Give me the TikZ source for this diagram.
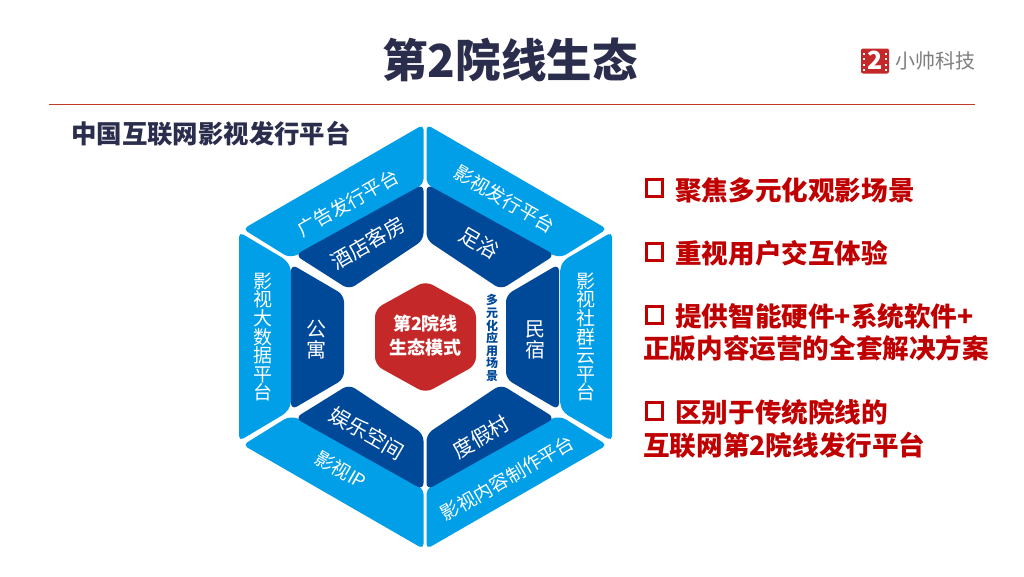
\documentclass[tikz,border=0pt]{standalone}
\usepackage{fontspec}
\setmainfont{Noto Sans CJK SC}
\definecolor{lightb}{HTML}{009FE8}
\definecolor{darkb}{HTML}{004898}
\definecolor{hexred}{HTML}{C52828}
\definecolor{navy}{HTML}{2B2D4D}
\definecolor{redtxt}{HTML}{C00000}
\definecolor{rulered}{HTML}{C0392B}
\definecolor{graytxt}{HTML}{7F7F7F}
\newcommand{\fs}[1]{\fontsize{#1}{#1}\selectfont}
\tikzset{
  lightpart/.style={fill=lightb,rounded corners=5pt},
  darkpart/.style={fill=darkb,rounded corners=7pt},
  lightlabel/.style={text=white,inner sep=0pt,font=\fs{18.8}},
  darklabel/.style={text=white,inner sep=0pt,font=\fs{20.6}},
  stacklight/.style={text=white,inner sep=0pt,align=center,font=\fontsize{19}{18.6}\selectfont},
  stackdark/.style={text=white,inner sep=0pt,align=center,font=\fontsize{20}{21}\selectfont},
  pointtext/.style={text=redtxt,inner sep=0pt,anchor=west,font=\bfseries\fs{26.6}},
  bulletbox/.style={draw=redtxt,line width=3.2pt,minimum size=16.5pt,inner sep=0pt},
}
\begin{document}
\begin{tikzpicture}[x=1pt,y=-1pt]
\useasboundingbox[fill=white] (0,0) rectangle (1024,576);
% header
\node[text=navy,inner sep=0pt,font=\bfseries\fs{45.5}] (title) at (510,60) {第2院线生态};
\draw[rulered,line width=0.8pt] (49,104) coordinate (ruleL) -- (975,104) coordinate (ruleR);
\node[fill=hexred,rounded corners=2pt,minimum width=28pt,minimum height=25pt,inner sep=0pt] (logo) at (875,61) {};
\node[text=white,inner sep=0pt,font=\bfseries\fs{25}] (logotwo) at (875,60.5) {2};
\foreach \yy in {52.5,58,63.5,69}{
  \fill[white] (863,\yy) rectangle +(2.2,2.4);
  \fill[white] (884.8,\yy) rectangle +(2.2,2.4);
}
\node[text=graytxt,inner sep=0pt,anchor=west,font=\fs{20}] (brand) at (895,61) {小帅科技};
\node[text=navy,inner sep=0pt,anchor=west,font=\bfseries\fs{25.4}] (subtitle) at (71,134) {中国互联网影视发行平台};
% outer light pieces
\fill[lightpart] (423.5,124.5) -- (243,229) -- (288,257) -- (298,255) -- (423.5,184) -- cycle;
\fill[lightpart] (426.5,124.5) -- (607,229) -- (562,257) -- (552,255) -- (426.5,184) -- cycle;
\fill[lightpart] (239,232) -- (239,441) -- (286,413) -- (291,405) -- (291,268) -- (286,260) -- cycle;
\fill[lightpart] (612,232) -- (612,441) -- (564,413) -- (560,405) -- (560,268) -- (564,260) -- cycle;
\fill[lightpart] (423.5,549) -- (243,445) -- (288,417) -- (298,418) -- (423.5,489) -- cycle;
\fill[lightpart] (426.5,549) -- (607,445) -- (562,417) -- (552,418) -- (426.5,489) -- cycle;
% inner dark pieces
\fill[darkpart] (295,255) -- (423.5,184) -- (423.5,240) -- (349,289.5) -- cycle;
\fill[darkpart] (555,255) -- (426.5,184) -- (426.5,240) -- (501,289.5) -- cycle;
\fill[darkpart] (291,264) -- (344,295) -- (344,379) -- (291,410) -- cycle;
\fill[darkpart] (559,264) -- (506,295) -- (506,379) -- (559,410) -- cycle;
\fill[darkpart] (295,418) -- (423.5,490) -- (423.5,434) -- (349,384.5) -- cycle;
\fill[darkpart] (555,418) -- (426.5,490) -- (426.5,434) -- (501,384.5) -- cycle;
% centre
\fill[hexred,rounded corners=8pt] (425.5,281) -- (476,309) -- (476,365) -- (425.5,393) -- (375,365) -- (375,309) -- cycle;
\node[text=white,inner sep=0pt,align=center,font=\bfseries\fontsize{18}{24}\selectfont] (core) at (425.5,336) {第2院线\\生态模式};
\node[text=darkb,inner sep=0pt,align=center,font=\bfseries\fontsize{12}{12.6}\selectfont] (side) at (492,338) {多\\元\\化\\应\\用\\场\\景};
% labels
\node[lightlabel,rotate=30] (l1) at (348,203) {广告发行平台};
\node[lightlabel,rotate=-30] (l2) at (504.5,199) {影视发行平台};
\node[stacklight] (l3) at (263,337) {影\\视\\大\\数\\据\\平\\台};
\node[stacklight] (l4) at (586,337) {影\\视\\社\\群\\云\\平\\台};
\node[lightlabel,rotate=-30] (l5) at (341,470) {影视IP};
\node[lightlabel,rotate=30] (l6) at (507.5,478) {影视内容制作平台};
\node[darklabel,rotate=30] (d1) at (368,243) {酒店客房};
\node[darklabel,rotate=-30] (d2) at (479,243) {足浴};
\node[stackdark] (d3) at (316,340) {公\\寓};
\node[stackdark] (d4) at (535,340) {民\\宿};
\node[darklabel,rotate=-30] (d5) at (367,433) {娱乐空间};
\node[darklabel,rotate=30] (d6) at (481,437) {度假村};
% right column
\node[bulletbox] (b1) at (654.5,188) {};
\node[pointtext] (p1) at (675,190) {聚焦多元化观影场景};
\node[bulletbox] (b2) at (654.5,252) {};
\node[pointtext] (p2) at (675,253) {重视用户交互体验};
\node[bulletbox] (b3) at (654.5,315) {};
\node[pointtext] (p3) at (675,316) {提供智能硬件+系统软件+};
\node[pointtext] (p3b) at (643,348) {正版内容运营的全套解决方案};
\node[bulletbox] (b4) at (654.5,411) {};
\node[pointtext] (p4) at (675,412) {区别于传统院线的};
\node[pointtext] (p4b) at (643,445) {互联网第2院线发行平台};
\end{tikzpicture}
\end{document}
